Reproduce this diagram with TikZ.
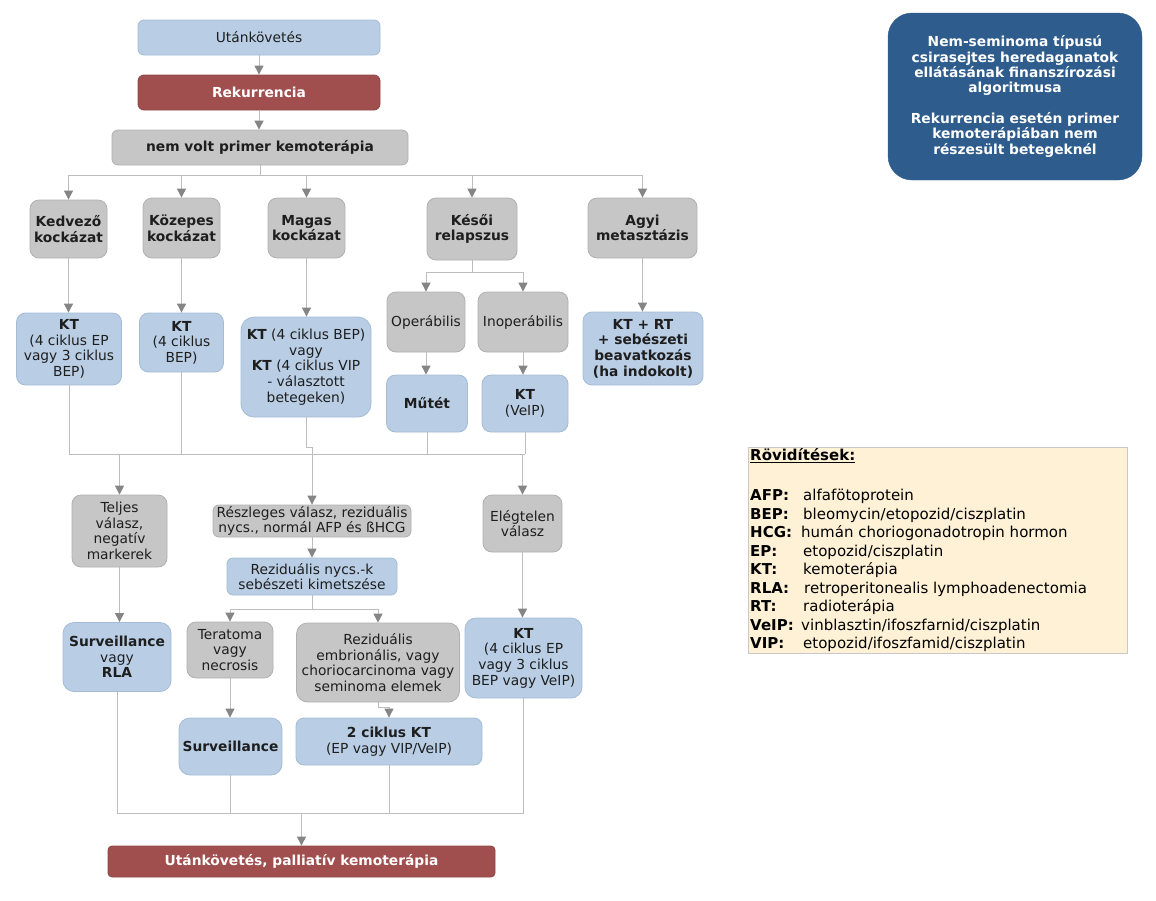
\documentclass[tikz,border=0pt]{standalone}
\usepackage{fontspec}
\setmainfont{DejaVu Sans}
\usetikzlibrary{arrows.meta}
\definecolor{bfill}{HTML}{B9CEE5}
\definecolor{bline}{HTML}{A3BBD4}
\definecolor{gfill}{HTML}{C6C6C6}
\definecolor{gline}{HTML}{B0B0B0}
\definecolor{rfill}{HTML}{A04E4E}
\definecolor{tfill}{HTML}{2E5C8C}
\definecolor{lfill}{HTML}{FEF1D6}
\definecolor{lline}{HTML}{C8C8C8}
\definecolor{connc}{HTML}{BDBDBD}
\definecolor{tipc}{HTML}{858585}
\definecolor{txt}{HTML}{1E1E1E}
\tikzset{
  box/.style={rounded corners=9pt, line width=0.8pt, align=center, inner sep=0pt,
    text=txt, font=\fontsize{13.8}{15.6}\selectfont},
  bluebox/.style={box, fill=bfill, draw=bline},
  graybox/.style={box, fill=gfill, draw=gline},
  redbox/.style={box, fill=rfill, draw=rfill!90!black, text=white,
    font=\fontsize{13.8}{15.6}\selectfont\bfseries},
  sz/.style 2 args={minimum width=#1pt, minimum height=#2pt},
  link/.style={draw=connc, line width=0.9pt},
  arr/.style={link, -{Triangle[width=9pt,length=9pt,color=tipc]}},
  legtxt/.style={anchor=base west, inner sep=0pt, font=\fontsize{15}{18}\selectfont, text=black},
}
\begin{document}
\begin{tikzpicture}[x=1pt,y=-1pt]
\useasboundingbox (0,0) rectangle (1156,900);

% ---- top chain
\node[bluebox, sz={242}{35}, rounded corners=6pt] (utan) at (259,37.5) {Utánkövetés};
\node[redbox, sz={242}{35}, rounded corners=6pt] (rek) at (259,92.5) {Rekurrencia};
\node[graybox, sz={296}{35}, rounded corners=6pt, font=\fontsize{13.8}{15.6}\selectfont\bfseries] (nemvolt) at (260,147.5) {nem volt primer kemoterápia};

% ---- risk row
\node[graybox, sz={77}{58}, font=\fontsize{13.8}{15.6}\selectfont\bfseries] (kedv) at (68.5,229) {Kedvező\\kockázat};
\node[graybox, sz={77}{60}, font=\fontsize{13.8}{15.6}\selectfont\bfseries] (kozep) at (181.5,228) {Közepes\\kockázat};
\node[graybox, sz={77}{60}, font=\fontsize{13.8}{15.6}\selectfont\bfseries] (magas) at (306.5,228) {Magas\\kockázat};
\node[graybox, sz={90}{62}, font=\fontsize{13.8}{15.6}\selectfont\bfseries] (kesoi) at (472,229) {Késői\\relapszus};
\node[graybox, sz={109}{60}, font=\fontsize{13.8}{15.6}\selectfont\bfseries] (agyi) at (642.5,228) {Agyi\\metasztázis};

% ---- therapy row
\node[bluebox, sz={105}{72}] (kt1) at (69,349) {\textbf{KT}\\(4 ciklus EP\\vagy 3 ciklus\\BEP)};
\node[bluebox, sz={84}{59}] (kt2) at (181.5,342.5) {\textbf{KT}\\(4 ciklus\\BEP)};
\node[bluebox, sz={130}{100}, rounded corners=13pt] (kt3) at (306,367) {\textbf{KT} (4 ciklus BEP)\\vagy\\\textbf{KT} (4 ciklus VIP\\- választott\\betegeken)};
\node[graybox, sz={78}{60}] (oper) at (426,322) {Operábilis};
\node[graybox, sz={90}{60}] (inoper) at (523,322) {Inoperábilis};
\node[bluebox, sz={81}{57}, font=\fontsize{13.8}{15.6}\selectfont\bfseries] (mutet) at (427,403.5) {Műtét};
\node[bluebox, sz={86}{57}] (ktveip) at (525,403.5) {\textbf{KT}\\(VeIP)};
\node[bluebox, sz={120}{73}, font=\fontsize{13.8}{15.6}\selectfont\bfseries] (kt6) at (643,348.5) {KT + RT\\+ sebészeti\\beavatkozás\\(ha indokolt)};

% ---- response row
\node[graybox, sz={95}{72}] (teljes) at (119.5,531) {Teljes\\válasz,\\negatív\\markerek};
\node[graybox, sz={198}{32}, rounded corners=6pt] (reszl) at (312,521) {Részleges válasz, reziduális\\nycs., normál AFP és ßHCG};
\node[graybox, sz={79}{57}] (elegt) at (522.5,523.5) {Elégtelen\\válasz};
\node[bluebox, sz={170}{37}, rounded corners=6pt] (rezid) at (312,576.5) {Reziduális nycs.-k\\sebészeti kimetszése};

% ---- lower rows
\node[bluebox, sz={108}{69}, rounded corners=11pt] (survrla) at (117,657) {\textbf{Surveillance}\\vagy\\\textbf{RLA}};
\node[graybox, sz={86}{56}] (terat) at (230,650) {Teratoma\\vagy\\necrosis};
\node[graybox, sz={163}{79}, rounded corners=11pt] (rezemb) at (378,662.5) {Reziduális\\embrionális, vagy\\choriocarcinoma vagy\\seminoma elemek};
\node[bluebox, sz={117}{80}, rounded corners=11pt] (ktbig) at (523.5,658) {\textbf{KT}\\(4 ciklus EP\\vagy 3 ciklus\\BEP vagy VeIP)};
\node[bluebox, sz={103}{57}, rounded corners=11pt, font=\fontsize{13.8}{15.6}\selectfont\bfseries] (surv) at (230.5,746.5) {Surveillance};
\node[bluebox, sz={186}{47}, rounded corners=8pt] (ktkc) at (389,741.5) {\textbf{2 ciklus KT}\\(EP vagy VIP/VeIP)};
\node[redbox, sz={387}{31}, rounded corners=4pt] (final) at (301.5,861.5) {Utánkövetés, palliatív kemoterápia};

% ---- title box
\node[fill=tfill, draw=tfill, rounded corners=24pt, sz={254}{167}, inner sep=0pt, align=center,
  text=white, font=\fontsize{13.8}{15.3}\selectfont\bfseries] (title) at (1015,96.5)
  {Nem-seminoma típusú\\csirasejtes heredaganatok\\ellátásának finanszírozási\\algoritmusa\\[15.3pt]Rekurrencia esetén primer\\kemoterápiában nem\\részesült betegeknél};

% ---- legend
\node[fill=lfill, draw=lline, line width=0.8pt, sz={379}{206}, inner sep=0pt] (leg) at (937.5,550) {};
\node[legtxt, font=\fontsize{15}{18}\selectfont\bfseries] (lt) at (750,460.5) {\underline{Rövidítések:}};
\node[legtxt] (l1a) at (750,500.5) {\textbf{AFP:}};  \node[legtxt] (l1b) at (803,500.5) {alfafötoprotein};
\node[legtxt] (l2a) at (750,519) {\textbf{BEP:}};    \node[legtxt] (l2b) at (803,519) {bleomycin/etopozid/ciszplatin};
\node[legtxt] (l3a) at (750,537.5) {\textbf{HCG:}};  \node[legtxt] (l3b) at (801,537.5) {humán choriogonadotropin hormon};
\node[legtxt] (l4a) at (750,556) {\textbf{EP:}};     \node[legtxt] (l4b) at (803,556) {etopozid/ciszplatin};
\node[legtxt] (l5a) at (750,574.5) {\textbf{KT:}};   \node[legtxt] (l5b) at (803,574.5) {kemoterápia};
\node[legtxt] (l6a) at (750,593) {\textbf{RLA:}};    \node[legtxt] (l6b) at (804,593) {retroperitonealis lymphoadenectomia};
\node[legtxt] (l7a) at (750,611.5) {\textbf{RT:}};   \node[legtxt] (l7b) at (803,611.5) {radioterápia};
\node[legtxt] (l8a) at (750,630) {\textbf{VeIP:}};   \node[legtxt] (l8b) at (801,630) {vinblasztin/ifoszfarnid/ciszplatin};
\node[legtxt] (l9a) at (750,648.5) {\textbf{VIP:}};  \node[legtxt] (l9b) at (803,648.5) {etopozid/ifoszfamid/ciszplatin};

% ---- connectors: top
\draw[arr] (utan.south) -- (utan.south |- rek.north);
\draw[arr] (rek.south) -- (rek.south |- nemvolt.north);
\coordinate (b1) at (260,175);
\draw[link] (nemvolt.south) -- (b1);
\draw[link] (kedv.north |- b1) -- (agyi.north |- b1);
\draw[arr] (kedv.north |- b1) -- (kedv.north);
\draw[arr] (kozep.north |- b1) -- (kozep.north);
\draw[arr] (magas.north |- b1) -- (magas.north);
\draw[arr] (kesoi.north |- b1) -- (kesoi.north);
\draw[arr] (agyi.north |- b1) -- (agyi.north);

% risk -> therapy
\draw[arr] (kedv.south) -- (kedv.south |- kt1.north);
\draw[arr] (kozep.south) -- (kozep.south |- kt2.north);
\draw[arr] (magas.south) -- (magas.south |- kt3.north);
\draw[arr] (agyi.south) -- (agyi.south |- kt6.north);
\coordinate (b2) at (472,272);
\draw[link] (kesoi.south) -- (b2);
\draw[link] (oper.north |- b2) -- (inoper.north |- b2);
\draw[arr] (oper.north |- b2) -- (oper.north);
\draw[arr] (inoper.north |- b2) -- (inoper.north);
\draw[arr] (oper.south) -- (oper.south |- mutet.north);
\draw[arr] (inoper.south) -- (inoper.south |- ktveip.north);

% merge into responses
\coordinate (m1) at (0,454);
\draw[link] (kt1.south) -- (kt1.south |- m1);
\draw[link] (kt2.south) -- (kt2.south |- m1);
\draw[link] (kt3.south) -- ++(0,30) -| (reszl.north |- m1);
\draw[link] (mutet.south) -- (mutet.south |- m1);
\draw[link] (ktveip.south) -- (ktveip.south |- m1);
\draw[link] (kt1.south |- m1) -- (ktveip.south |- m1);
\draw[arr] (teljes.north |- m1) -- (teljes.north);
\draw[arr] (reszl.north |- m1) -- (reszl.north);
\draw[arr] (elegt.north |- m1) -- (elegt.north);

% responses -> actions
\draw[arr] (teljes.south) -- (teljes.south |- survrla.north);
\draw[arr] (reszl.south) -- (rezid.north);
\draw[arr] (elegt.south) -- (elegt.south |- ktbig.north);
\coordinate (b3) at (0,609);
\draw[link] (rezid.south) -- (rezid.south |- b3);
\draw[link] (terat.north |- b3) -- (rezemb.north |- b3);
\draw[arr] (terat.north |- b3) -- (terat.north);
\draw[arr] (rezemb.north |- b3) -- (rezemb.north);
\draw[arr] (terat.south) -- (terat.south |- surv.north);
\draw[arr] (rezemb.south) -- ++(0,5) -| (ktkc.north);

% final merge
\coordinate (m2) at (0,813);
\draw[link] (survrla.south) -- (survrla.south |- m2);
\draw[link] (surv.south) -- (surv.south |- m2);
\draw[link] (ktkc.south) -- (ktkc.south |- m2);
\draw[link] (ktbig.south) -- (ktbig.south |- m2);
\draw[link] (survrla.south |- m2) -- (ktbig.south |- m2);
\draw[arr] (final.north |- m2) -- (final.north);
\end{tikzpicture}
\end{document}
